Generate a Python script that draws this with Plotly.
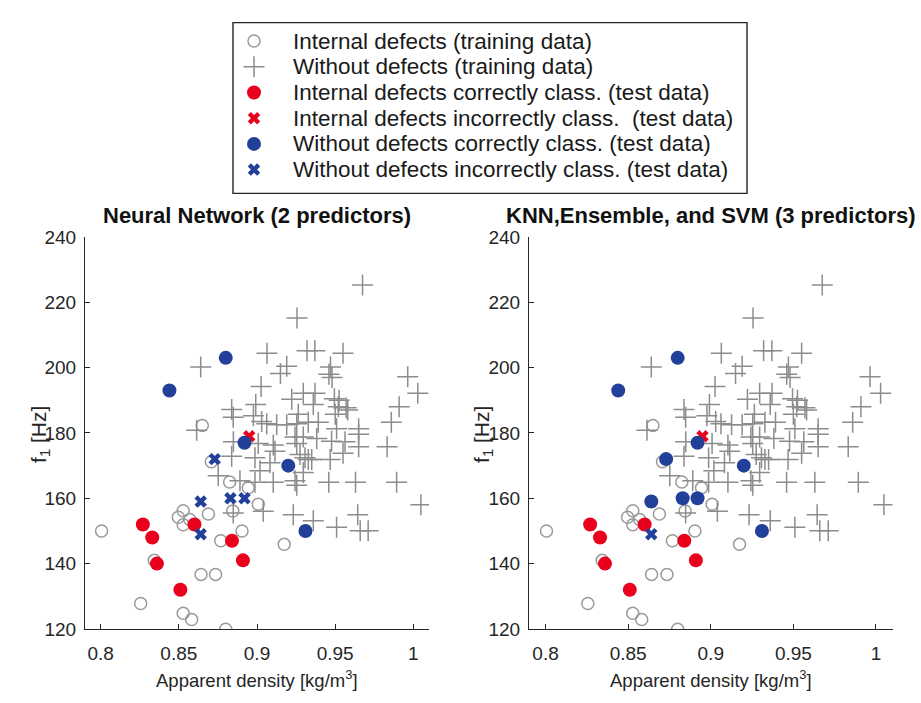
import plotly.graph_objects as go

# ---- training data: samples with internal defects ----
int_train_x = [0.8006, 0.8256, 0.8343, 0.8497, 0.8528, 0.8528, 0.8570, 0.8528, 0.8582,
               0.8642, 0.8689, 0.8708, 0.8735, 0.8768, 0.8800, 0.8825, 0.8845, 0.8904,
               0.8944, 0.9008, 0.9174, 0.8650]
int_train_y = [150.0, 127.8, 141.0, 154.2, 156.2, 151.9, 153.5, 124.8, 122.9,
               136.7, 155.2, 171.2, 136.7, 147.0, 119.9, 165.0, 156.1, 150.0,
               163.2, 158.2, 145.9, 182.3]

# ---- training data: samples without defects ----
sound_train_x = [0.9675, 0.9256, 0.9320, 0.9370, 0.9550, 0.9064,
                 0.8640, 0.9190, 0.9150, 0.9470, 0.9460, 0.9480, 0.9964,
                 0.9026, 1.0028, 0.9222, 0.9296, 0.9371, 0.9360,
                 0.9495, 0.9525, 0.9520, 0.9570, 0.9580, 0.9500,
                 0.9909, 0.8838, 0.8848, 0.8992, 0.8977, 0.9264,
                 0.9030, 0.9062, 0.9126, 0.9190, 0.9254, 0.9328, 0.9392,
                 0.9509, 0.9650, 0.9859, 0.8614,
                 0.8849, 0.9008, 0.9104, 0.9243, 0.9296, 0.9382, 0.9477, 0.9563,
                 0.9650, 0.9650, 0.9832, 0.9254,
                 0.9115, 0.9275, 0.9550, 0.9468, 0.9307, 0.9328, 0.9350,
                 0.8838, 0.8987, 0.9083, 0.9019, 0.9296,
                 0.8752, 0.8891, 0.8987, 0.9104, 0.9243, 0.9254, 0.9459, 0.9630, 0.9893,
                 0.8848, 0.9040, 0.9232, 0.9360, 0.9644, 0.9509, 0.9660, 0.9711, 1.0048]
sound_train_y = [225.3, 215.2, 205.2, 205.2, 204.4, 204.4,
                 200.2, 200.4, 198.2, 200.2, 198.0, 197.0, 197.2,
                 194.2, 192.2, 190.3, 192.2, 192.2, 188.7,
                 190.5, 190.0, 188.0, 187.7, 187.0, 185.7,
                 188.0, 187.2, 184.8, 188.7, 185.3, 185.7,
                 183.5, 182.8, 182.5, 182.5, 182.8, 183.3, 183.3,
                 181.3, 181.3, 183.3, 180.8,
                 177.3, 176.8, 176.3, 178.8, 178.8, 178.3, 177.5, 177.3,
                 179.6, 175.8, 175.8, 176.8,
                 174.4, 173.4, 173.8, 171.9, 172.4, 171.9, 171.9,
                 172.9, 172.4, 170.9, 168.4, 167.9,
                 166.9, 165.4, 164.9, 164.9, 165.4, 164.0, 164.9, 164.9, 164.9,
                 155.5, 156.0, 155.0, 153.1, 155.0, 151.1, 150.1, 150.1, 158.0]

# ---- test data ----
int_test_x = [0.827, 0.833, 0.836, 0.851, 0.860, 0.884, 0.891, 0.895]
int_test_y = [152.0, 148.0, 140.0, 132.0, 152.0, 147.0, 141.0, 179.0]
sound_test_x = [0.844, 0.880, 0.892, 0.920, 0.931, 0.864, 0.864, 0.873, 0.883, 0.892]
sound_test_y = [193.0, 203.0, 177.0, 170.0, 150.0, 159.0, 149.0, 172.0, 160.0, 160.0]

# classification outcome per model (True = correctly classified)
int_ok_nn = [True, True, True, True, True, True, True, False]
int_ok_3p = [True, True, True, True, True, True, True, False]
sound_ok_nn = [True, True, True, True, True, False, False, False, False, False]
sound_ok_3p = [True, True, True, True, True, True, False, True, True, True]

titles = ["Neural Network (2 predictors)", "KNN,Ensemble, and SVM (3 predictors)"]
legend_labels = ["Internal defects (training data)",
                 "Without defects (training data)",
                 "Internal defects correctly class. (test data)",
                 "Internal defects incorrectly class.  (test data)",
                 "Without defects correctly class. (test data)",
                 "Without defects incorrectly class. (test data)"]
y_ticks = [120, 140, 160, 180, 200, 220, 240]
x_ticks = [0.8, 0.85, 0.9, 0.95, 1.0]
x_tick_text = ["0.8", "0.85", "0.9", "0.95", "1"]

FONT = "Liberation Sans, Arial, Helvetica, sans-serif"
GRAY_C = "#9a9a9a"
GRAY_P = "#8c8c8c"
RED = "#e8001c"
BLUE = "#22409a"
AXC = "#262626"

W, H = 921, 703

styles = [
    dict(symbol="circle-open", size=12, color=GRAY_C, line=dict(width=1.5, color=GRAY_C)),
    dict(symbol="cross-thin-open", size=15, color=GRAY_P, line=dict(width=1.5, color=GRAY_P)),
    dict(symbol="circle", size=14, color=RED, line=dict(width=0)),
    dict(symbol="x", size=11, color=RED, line=dict(width=0)),
    dict(symbol="circle", size=14, color=BLUE, line=dict(width=0)),
    dict(symbol="x", size=11, color=BLUE, line=dict(width=0)),
]


def pick(xs, ys, flags, want):
    px = [x for x, f in zip(xs, flags) if f == want]
    py = [y for y, f in zip(ys, flags) if f == want]
    return px, py


fig = go.Figure()

for k, (int_ok, sound_ok) in enumerate([(int_ok_nn, sound_ok_nn), (int_ok_3p, sound_ok_3p)]):
    xa = "x" if k == 0 else "x2"
    ya = "y" if k == 0 else "y2"
    groups = [
        (int_train_x, int_train_y),
        (sound_train_x, sound_train_y),
        pick(int_test_x, int_test_y, int_ok, True),
        pick(int_test_x, int_test_y, int_ok, False),
        pick(sound_test_x, sound_test_y, sound_ok, True),
        pick(sound_test_x, sound_test_y, sound_ok, False),
    ]
    for (gx, gy), st in zip(groups, styles):
        fig.add_trace(go.Scatter(x=gx, y=gy, mode="markers", marker=st,
                                 xaxis=xa, yaxis=ya, showlegend=False,
                                 hoverinfo="skip"))

# legend key glyphs drawn on a pixel-space overlay axis
key_x = 254
row_y = [32, 58.5, 85, 111.5, 138, 164.5]
for ry, st in zip(row_y, styles):
    fig.add_trace(go.Scatter(x=[key_x], y=[ry], mode="markers", marker=st,
                             xaxis="x3", yaxis="y3", showlegend=False, hoverinfo="skip"))
for ry, lab in zip(row_y, legend_labels):
    fig.add_annotation(x=291 / W, y=1 - ry / H, xref="paper", yref="paper",
                       text=lab, showarrow=False, xanchor="left", yanchor="middle",
                       font=dict(family=FONT, size=22.5, color="#1a1a1a"))
fig.add_shape(type="rect", xref="paper", yref="paper",
              x0=233 / W, x1=747 / W, y0=1 - 189 / H, y1=1 - 13 / H,
              line=dict(color=AXC, width=1.4), fillcolor="rgba(0,0,0,0)")

ydom = [65 / H, 469 / H]
xdoms = [[85 / W, 429 / W], [529 / W, 892.5 / W]]

axis_common = dict(showline=True, linecolor=AXC, linewidth=1.2, mirror=False,
                   showgrid=False, zeroline=False, ticks="inside", ticklen=5,
                   tickcolor=AXC, tickwidth=1.2,
                   tickfont=dict(family=FONT, size=19, color=AXC))

for k in range(2):
    sx = "" if k == 0 else "2"
    fig.update_layout(**{
        f"xaxis{sx}": dict(axis_common, domain=xdoms[k], range=[0.79, 1.01],
                           tickvals=x_ticks, ticktext=x_tick_text, anchor=f"y{sx}",
                           ticklabelstandoff=7),
        f"yaxis{sx}": dict(axis_common, domain=ydom, range=[120, 240],
                           tickvals=y_ticks, anchor=f"x{sx}", ticklabelstandoff=4),
    })
    cx = (xdoms[k][0] + xdoms[k][1]) / 2
    fig.add_annotation(x=cx, y=1 - 212 / H, xref="paper", yref="paper",
                       text=f"<b>{titles[k]}</b>", showarrow=False,
                       xanchor="center", yanchor="middle",
                       font=dict(family=FONT, size=22, color="#111111"))
    fig.add_annotation(x=cx, y=1 - 690 / H, xref="paper", yref="paper",
                       text="Apparent density [kg/m<sup>3</sup>]", showarrow=False,
                       xanchor="center", yanchor="middle",
                       font=dict(family=FONT, size=18.5, color=AXC))
    fig.add_annotation(x=(40 if k == 0 else 483) / W, y=1 - 438 / H,
                       xref="paper", yref="paper", textangle=-90,
                       text="f<sub>1</sub> [Hz]", showarrow=False,
                       xanchor="center", yanchor="middle",
                       font=dict(family=FONT, size=21, color=AXC))

fig.update_layout(
    xaxis3=dict(domain=[0, 1], range=[0, W], visible=False, anchor="y3"),
    yaxis3=dict(domain=[0, 1], range=[H, 0], visible=False, anchor="x3"),
    width=W, height=H,
    margin=dict(l=0, r=0, t=0, b=0),
    paper_bgcolor="white", plot_bgcolor="rgba(0,0,0,0)",
    showlegend=False,
    font=dict(family=FONT),
)

fig.write_html("out.html", include_plotlyjs=True, full_html=True,
               config={"displayModeBar": False})
